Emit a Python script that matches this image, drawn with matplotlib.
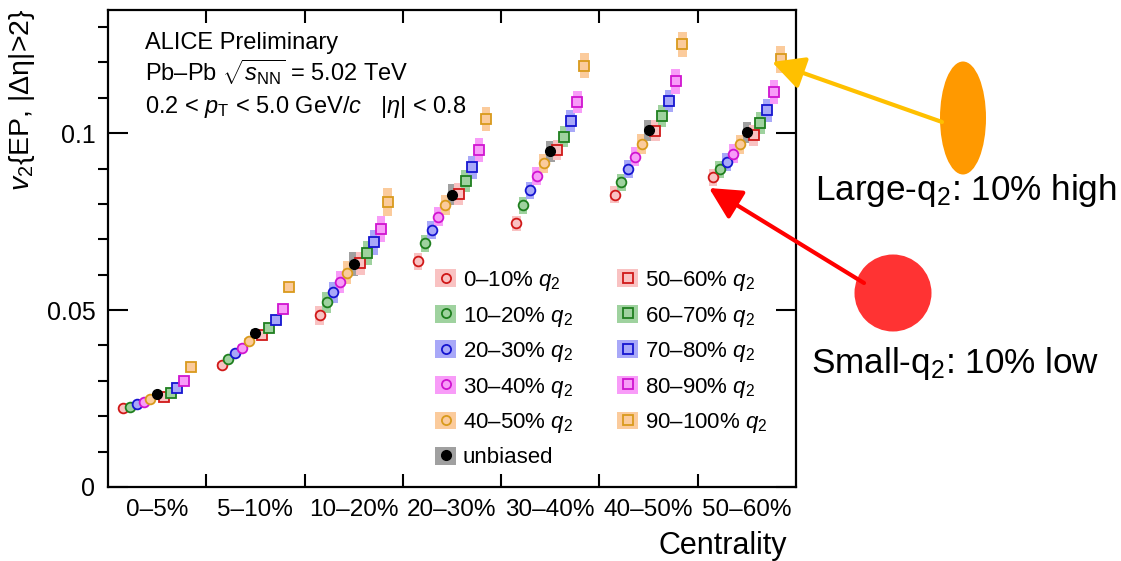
import matplotlib
matplotlib.use('Agg')
import matplotlib.pyplot as plt
from matplotlib.patches import Patch, Ellipse, Circle, FancyArrowPatch
from matplotlib.lines import Line2D
from matplotlib.legend_handler import HandlerTuple
import numpy as np

plt.rcParams['font.family'] = ['Liberation Sans', 'DejaVu Sans']
plt.rcParams['mathtext.fontset'] = 'custom'
plt.rcParams['mathtext.rm'] = 'Liberation Sans'
plt.rcParams['mathtext.it'] = 'Liberation Sans:italic'
plt.rcParams['mathtext.bf'] = 'Liberation Sans:bold'

# ---------------- data ----------------
centralities = ['0–5%', '5–10%', '10–20%', '20–30%', '30–40%', '40–50%', '50–60%']

v2_q2_0_10 = [0.02223, 0.03446, 0.04859, 0.06384, 0.07449, 0.08257, 0.08748]
v2_q2_10_20 = [0.02268, 0.03607, 0.05218, 0.06884, 0.07958, 0.08607, 0.08974]
v2_q2_20_30 = [0.02336, 0.03785, 0.05500, 0.07260, 0.08381, 0.08983, 0.09181]
v2_q2_30_40 = [0.02401, 0.03935, 0.05783, 0.07636, 0.08785, 0.09330, 0.09415]
v2_q2_40_50 = [0.02477, 0.04116, 0.06054, 0.07975, 0.09144, 0.09698, 0.09681]
v2_unbiased = [0.02620, 0.04359, 0.06291, 0.08257, 0.09483, 0.10076, 0.10028]
v2_q2_50_60 = [0.02551, 0.04285, 0.06320, 0.08277, 0.09520, 0.10065, 0.09935]
v2_q2_60_70 = [0.02664, 0.04500, 0.06602, 0.08636, 0.09896, 0.10472, 0.10274]
v2_q2_70_80 = [0.02788, 0.04726, 0.06912, 0.09031, 0.10348, 0.10904, 0.10641]
v2_q2_80_90 = [0.02986, 0.05028, 0.07297, 0.09520, 0.10884, 0.11460, 0.11158]
v2_q2_90_100 = [0.03398, 0.05650, 0.08060, 0.10400, 0.11901, 0.12506, 0.12082]

syst_q2_0_10 = [0.0008, 0.0010, 0.0027, 0.0024, 0.0022, 0.0024, 0.0024]
syst_q2_10_20 = [0.0008, 0.0010, 0.0030, 0.0025, 0.0024, 0.0025, 0.0025]
syst_q2_20_30 = [0.0008, 0.0010, 0.0030, 0.0026, 0.0025, 0.0026, 0.0026]
syst_q2_30_40 = [0.0008, 0.0010, 0.0031, 0.0027, 0.0026, 0.0027, 0.0027]
syst_q2_40_50 = [0.0008, 0.0010, 0.0032, 0.0028, 0.0027, 0.0028, 0.0028]
syst_unbiased = [0.0008, 0.0011, 0.0034, 0.0030, 0.0029, 0.0030, 0.0030]
syst_q2_50_60 = [0.0008, 0.0011, 0.0033, 0.0030, 0.0029, 0.0030, 0.0030]
syst_q2_60_70 = [0.0009, 0.0011, 0.0034, 0.0031, 0.0030, 0.0031, 0.0031]
syst_q2_70_80 = [0.0009, 0.0012, 0.0036, 0.0032, 0.0031, 0.0032, 0.0033]
syst_q2_80_90 = [0.0009, 0.0012, 0.0037, 0.0033, 0.0032, 0.0034, 0.0034]
syst_q2_90_100 = [0.0010, 0.0013, 0.0039, 0.0035, 0.0035, 0.0036, 0.0038]

series_labels = ['0–10%', '10–20%', '20–30%', '30–40%', '40–50%', 'unbiased',
                 '50–60%', '60–70%', '70–80%', '80–90%', '90–100%']
series_values = [v2_q2_0_10, v2_q2_10_20, v2_q2_20_30, v2_q2_30_40, v2_q2_40_50,
                 v2_unbiased, v2_q2_50_60, v2_q2_60_70, v2_q2_70_80, v2_q2_80_90,
                 v2_q2_90_100]
series_syst = [syst_q2_0_10, syst_q2_10_20, syst_q2_20_30, syst_q2_30_40, syst_q2_40_50,
               syst_unbiased, syst_q2_50_60, syst_q2_60_70, syst_q2_70_80, syst_q2_80_90,
               syst_q2_90_100]

# ---------------- styles ----------------
dark = ['#d01818', '#1f7f1f', '#1515d0', '#d014d0', '#d99a1c', 'black',
        '#d01818', '#1f7f1f', '#1515d0', '#d014d0', '#d99a1c']
light = ['#f9c2c2', '#9fd29f', '#a8a8f8', '#f89cf8', '#fbcb9c', '#a0a0a0',
         '#f9c2c2', '#9fd29f', '#a8a8f8', '#f89cf8', '#fbcb9c']
markers = ['o'] * 5 + ['o'] + ['s'] * 5

W, H = 1121, 561
fig = plt.figure(figsize=(W / 100, H / 100), dpi=100)
L, R, T, B = 108, 796, 10, 487
ax = fig.add_axes([L / W, (H - B) / H, (R - L) / W, (B - T) / H])

nb = len(centralities)
centers = np.arange(nb) + 0.5
step = 0.069
box_w = 0.088

for k, (vals, syst) in enumerate(zip(series_values, series_syst)):
    x = centers + (k - 5) * step
    vals = np.asarray(vals)
    syst = np.asarray(syst)
    ax.bar(x, 2 * syst, bottom=vals - syst, width=box_w, color=light[k],
           edgecolor='none', zorder=2 + k * 0.01)
    if k == 5:
        ax.plot(x, vals, ls='none', marker='o', ms=7, mfc='black', mec='black',
                zorder=5)
    else:
        ax.plot(x, vals, ls='none', marker=markers[k], ms=7 if markers[k] == 'o' else 6.6,
                mfc=light[k], mec=dark[k], mew=1.3, zorder=4)

ax.set_xlim(0, nb)
ax.set_ylim(0, 0.1348)

ax.set_xticks(np.arange(1, nb))
ax.set_xticklabels([])
ax.set_xticks(centers, minor=True)
ax.set_xticklabels(centralities, minor=True, fontsize=17.5)
ax.set_yticks([0, 0.05, 0.1])
ax.set_yticklabels(['0', '0.05', '0.1'], fontsize=18)
ax.set_yticks(np.arange(0, 0.135, 0.01), minor=True)

for sp in ax.spines.values():
    sp.set_linewidth(1.6)
ax.tick_params(direction='in', top=True, right=True, width=1.5)
ax.tick_params(axis='x', which='major', length=9.5)
ax.tick_params(axis='x', which='minor', length=0, pad=9)
ax.tick_params(axis='y', which='major', length=14.4, pad=9)
ax.tick_params(axis='y', which='minor', length=7.2, width=1.5)

# axis titles
fig.text(787 / W, 1 - 546 / H, 'Centrality', ha='right', va='center', fontsize=22)
fig.text(22 / W, 1 - 8 / H, r'$v_2${EP, |Δη|>2}', rotation=90, ha='center', va='top',
         fontsize=20.5)

# header text
tx = (145 - L) / (R - L)
def ay(py):
    return (B - py) / (B - T)
ax.text(tx, ay(49), 'ALICE Preliminary', transform=ax.transAxes, fontsize=17,
        va='baseline', ha='left')
ax.text(tx, ay(81), r'Pb–Pb $\sqrt{s_{\rm NN}}$ = 5.02 TeV', transform=ax.transAxes,
        fontsize=17, va='baseline', ha='left')
ax.text(tx, ay(113), r'0.2 < $p_{\rm T}$ < 5.0 GeV/$c$   |$\eta$| < 0.8',
        transform=ax.transAxes, fontsize=17, va='baseline', ha='left')

# legend
handles = []
for k in range(11):
    patch = Patch(facecolor=light[k], edgecolor='none')
    if k == 5:
        mk = Line2D([], [], ls='none', marker='o', ms=7, mfc='black', mec='black')
    else:
        mk = Line2D([], [], ls='none', marker=markers[k], ms=6.6, mfc='none',
                    mec=dark[k], mew=1.3)
    handles.append((patch, mk))
leg_labels = [lab if lab == 'unbiased' else lab + r' $q_2$' for lab in series_labels]
leg = ax.legend(handles, leg_labels, handler_map={tuple: HandlerTuple(ndivide=1)},
                ncol=2, loc='upper left', bbox_to_anchor=((435 - L) / (R - L), ay(269)),
                frameon=False, fontsize=16, handlelength=0.95, handleheight=0.86,
                handletextpad=0.3, labelspacing=0.52, columnspacing=2.0,
                borderpad=0, borderaxespad=0)

# annotation overlay
ov = fig.add_axes([0, 0, 1, 1], zorder=10)
ov.set_xlim(0, W)
ov.set_ylim(H, 0)
ov.axis('off')
ov.patch.set_alpha(0)

ov.add_patch(Ellipse((963, 118), 46, 113, color='#ff9900', lw=0))
ov.add_patch(Circle((893, 293), 38.5, color='#ff3333', lw=0))
ov.add_patch(FancyArrowPatch((942, 122), (772, 62), arrowstyle='-|>,head_length=1.95,head_width=1.0',
                             mutation_scale=10, color='#ffc000', lw=3, shrinkA=0, shrinkB=0))
ov.add_patch(FancyArrowPatch((864, 283), (709, 188), arrowstyle='-|>,head_length=1.95,head_width=1.0',
                             mutation_scale=10, color='#ff0000', lw=3, shrinkA=0, shrinkB=0))
ov.text(815, 200, r'Large-q$_2$: 10% high', fontsize=25.3, ha='left', va='baseline')
ov.text(811, 373, r'Small-q$_2$: 10% low', fontsize=25.3, ha='left', va='baseline')

fig.savefig('out.png', dpi=100)
